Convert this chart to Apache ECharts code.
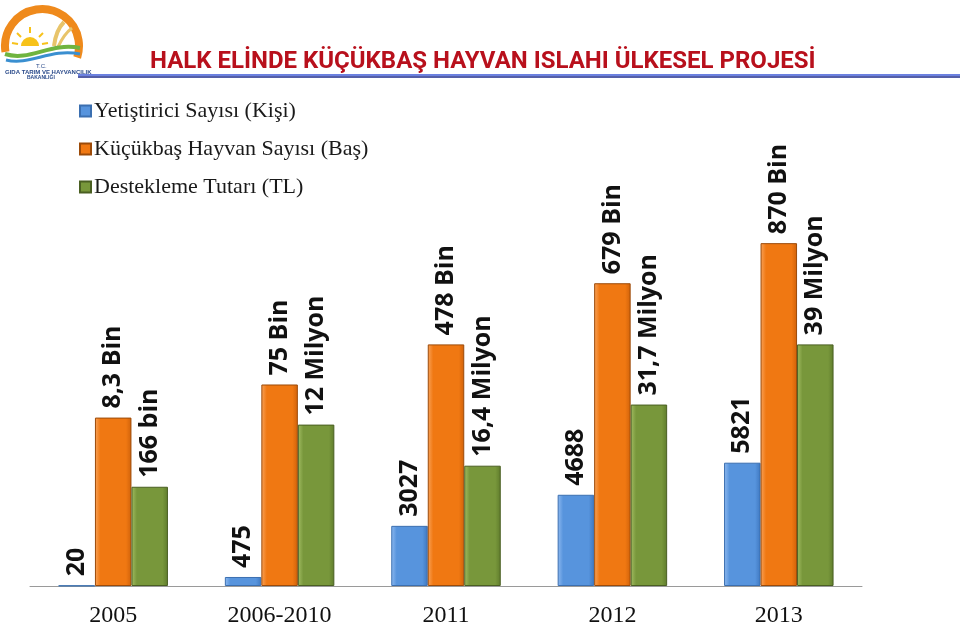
<!DOCTYPE html>
<html><head><meta charset="utf-8">
<script src="https://cdn.jsdelivr.net/npm/echarts@6/dist/echarts.min.js"></script>
<style>html,body{margin:0;padding:0;background:#fff}#c{width:960px;height:625px}</style>
</head><body><div id="c"></div>
<script>
// Categories
var categories = ['2005', '2006-2010', '2011', '2012', '2013'];
// Series names
var seriesNames = ['Yetiştirici Sayısı (Kişi)', 'Küçükbaş Hayvan Sayısı (Baş)', 'Destekleme Tutarı (TL)'];
// Bar heights as drawn in the picture (chart units)
var blueHeights = [0.4, 9, 60, 91, 123];
var orangeHeights = [168, 201, 241, 302, 342];
var greenHeights = [99, 161, 120, 181, 241];
// Value labels printed on the bars
var blueLabels = ['20', '475', '3027', '4688', '5821'];
var orangeLabels = ['8,3 Bin', '75 Bin', '478 Bin', '679 Bin', '870 Bin'];
var greenLabels = ['166 bin', '12 Milyon', '16,4 Milyon', '31,7 Milyon', '39 Milyon'];
var title = 'HALK ELİNDE KÜÇÜKBAŞ HAYVAN ISLAHI ÜLKESEL PROJESİ';

function grad(light, main, dark) {
  return new echarts.graphic.LinearGradient(0, 0, 1, 0, [
    {offset: 0, color: light}, {offset: 0.15, color: main}, {offset: 0.85, color: main}, {offset: 1, color: dark}
  ]);
}
function mkSeries(name, heights, labels, fill, border) {
  return {
    name: name, type: 'bar', barWidth: 36.5, barGap: '0%',
    data: heights,
    itemStyle: {color: fill, borderColor: border, borderWidth: 1},
    label: {
      show: true, position: 'top', distance: 9, rotate: 90, align: 'left', verticalAlign: 'middle',
      fontFamily: 'Open Sans', fontWeight: 'bold', fontSize: 25, color: '#111',
      formatter: function (p) { return labels[p.dataIndex]; }
    }
  };
}
var chart = echarts.init(document.getElementById('c'), null, {renderer: 'canvas'});
chart.setOption({
  animation: false,
  backgroundColor: '#fff',
  legend: {
    orient: 'vertical', left: 74, top: 95, itemGap: 16, itemWidth: 11, itemHeight: 11,
    icon: 'rect',
    textStyle: {fontFamily: 'Liberation Serif, Times New Roman, serif', fontSize: 22, color: '#1a1a1a', padding: [0, 0, 0, -2]},
    data: seriesNames
  },
  grid: {left: 30, right: 98, top: 185, bottom: 39, containLabel: false, outerBoundsMode: 'none'},
  xAxis: {
    type: 'category', data: categories,
    axisLine: {lineStyle: {color: '#9a9a9a', width: 1}},
    axisTick: {show: false},
    axisLabel: {fontFamily: 'Liberation Serif, Times New Roman, serif', fontSize: 24, color: '#111', margin: 18}
  },
  yAxis: {type: 'value', min: 0, max: 400, show: false, splitLine: {show: false}},
  series: [
    mkSeries(seriesNames[0], blueHeights, blueLabels, grad('#8fbaf0', '#5794dd', '#3f78c0'), '#3b6fb0'),
    mkSeries(seriesNames[1], orangeHeights, orangeLabels, grad('#f9a35a', '#f07812', '#d0620a'), '#9c4a08'),
    mkSeries(seriesNames[2], greenHeights, greenLabels, grad('#a2bd63', '#78973b', '#5f7c2c'), '#4a5f22')
  ],
  color: ['#5794dd', '#f07812', '#78973b'],
  graphic: [
    {type: 'text', left: 150, top: 50, style: {text: title, fontFamily: 'Liberation Sans Narrow, Roboto, sans-serif', fontWeight: 'bold', fontSize: 24, fill: '#b8101c'}},
    {type: 'line', shape: {x1: 78, y1: 75, x2: 960, y2: 75}, style: {stroke: '#3b57d6', lineWidth: 1.5}},
    {type: 'line', shape: {x1: 78, y1: 77, x2: 960, y2: 77}, style: {stroke: '#1c2a8a', lineWidth: 1.5}},
    // logo
    {type: 'arc', shape: {cx: 42, cy: 46, r: 37, startAngle: Math.PI * 0.95, endAngle: Math.PI * 2.1}, style: {stroke: '#ef8a1c', lineWidth: 8, fill: null}},
    {type: 'sector', shape: {cx: 30, cy: 46, r: 9, startAngle: Math.PI, endAngle: Math.PI * 2}, style: {fill: '#f7c21a'}},
    {type: 'line', shape: {x1: 30, y1: 33, x2: 30, y2: 27}, style: {stroke: '#f7c21a', lineWidth: 2}},
    {type: 'line', shape: {x1: 21, y1: 37, x2: 17, y2: 33}, style: {stroke: '#f7c21a', lineWidth: 2}},
    {type: 'line', shape: {x1: 39, y1: 37, x2: 43, y2: 33}, style: {stroke: '#f7c21a', lineWidth: 2}},
    {type: 'line', shape: {x1: 18, y1: 44, x2: 12, y2: 43}, style: {stroke: '#f7c21a', lineWidth: 2}},
    {type: 'line', shape: {x1: 42, y1: 44, x2: 48, y2: 43}, style: {stroke: '#f7c21a', lineWidth: 2}},
    {type: 'bezierCurve', shape: {x1: 54, y1: 46, x2: 64, y2: 22, cpx1: 56, cpy1: 30}, style: {stroke: '#e8c46a', lineWidth: 4, fill: null}},
    {type: 'bezierCurve', shape: {x1: 58, y1: 47, x2: 72, y2: 28, cpx1: 64, cpy1: 34}, style: {stroke: '#e8c46a', lineWidth: 3, fill: null}},
    {type: 'bezierCurve', shape: {x1: 5, y1: 54, x2: 80, y2: 48, cpx1: 30, cpy1: 62, cpx2: 50, cpy2: 42}, style: {stroke: '#6fb43f', lineWidth: 4, fill: null}},
    {type: 'bezierCurve', shape: {x1: 6, y1: 60, x2: 80, y2: 54, cpx1: 30, cpy1: 66, cpx2: 50, cpy2: 48}, style: {stroke: '#3a8fd0', lineWidth: 3, fill: null}},
    {type: 'text', left: 36, top: 63, style: {text: 'T.C.', fontFamily: 'Liberation Sans', fontSize: 6, fill: '#2a4a8a'}},
    {type: 'text', left: 5, top: 69, style: {text: 'GIDA TARIM VE HAYVANCILIK', fontFamily: 'Liberation Sans Narrow, Liberation Sans', fontWeight: 'bold', fontSize: 6, fill: '#2a4a8a'}},
    {type: 'text', left: 27, top: 75, style: {text: 'BAKANLIĞI', fontFamily: 'Liberation Sans', fontWeight: 'bold', fontSize: 5, fill: '#2a4a8a'}}
  ]
});
</script></body></html>
